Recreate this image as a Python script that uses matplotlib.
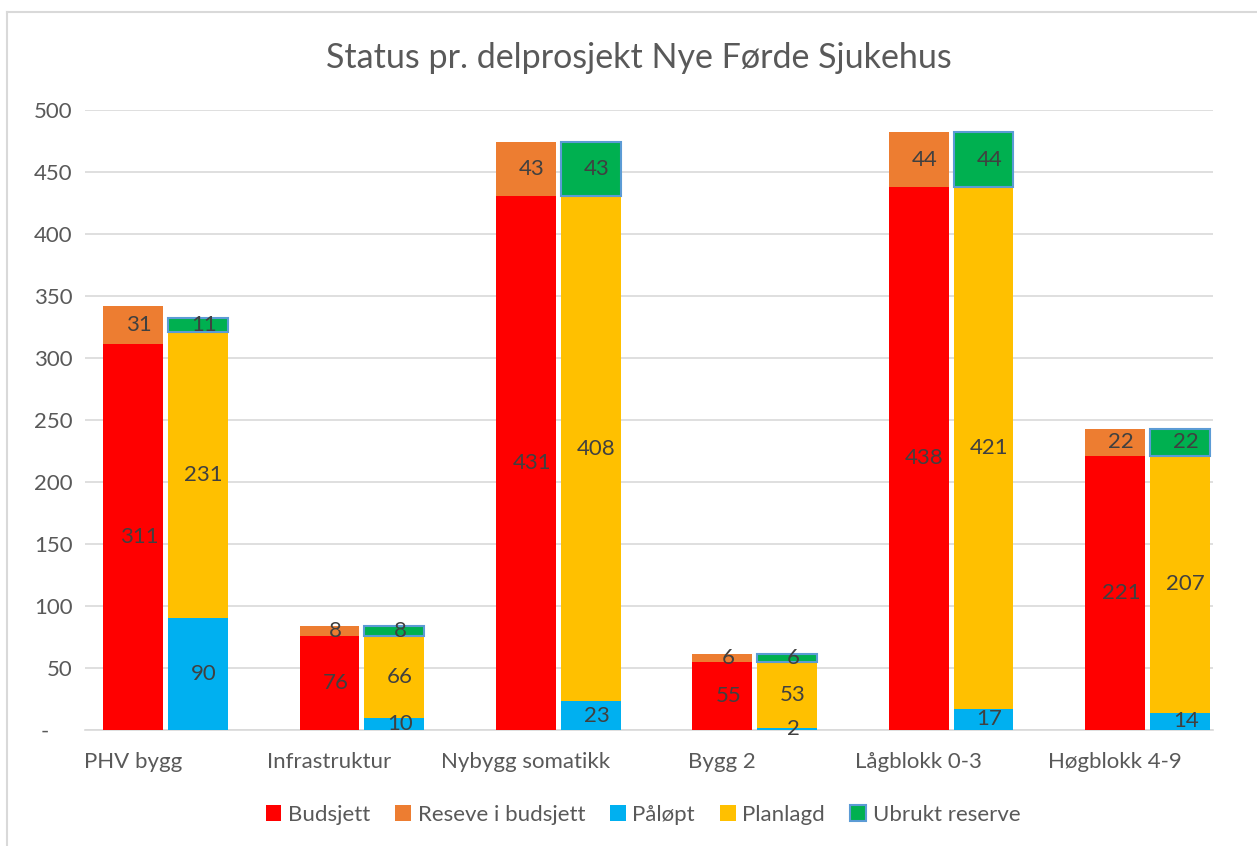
import matplotlib
matplotlib.use("Agg")
import matplotlib.pyplot as plt
from matplotlib.lines import Line2D
from matplotlib.patches import Patch
import numpy as np

plt.rcParams['font.family'] = ['Lato', 'DejaVu Sans']

categories = ["PHV bygg", "Infrastruktur", "Nybygg somatikk", "Bygg 2", "Lågblokk 0-3", "Høgblokk 4-9"]
budsjett = [311, 76, 431, 55, 438, 221]
reserve = [31, 8, 43, 6, 44, 22]
palopt = [90, 10, 23, 2, 17, 14]
planlagd = [231, 66, 408, 53, 421, 207]
ubrukt = [11, 8, 43, 6, 44, 22]
yticks = [0, 50, 100, 150, 200, 250, 300, 350, 400, 450, 500]
ytick_labels = ["-", "50", "100", "150", "200", "250", "300", "350", "400", "450", "500"]

c_bud = "#FF0000"
c_res = "#ED7D31"
c_pal = "#00B0F0"
c_plan = "#FFC000"
c_ubr = "#00B050"
c_ubr_edge = "#5B9BD5"
txt = "#595959"
lbl = "#404040"

W, H = 1257, 846
fig = plt.figure(figsize=(W / 100, H / 100), dpi=100)
ax = fig.add_axes([85 / W, 1 - 730 / H, (1213 - 85) / W, (730 - 110) / H])

x = np.arange(len(categories))
bw = 0.305
off = 0.165
xl = x - off
xr = x + off

ax.bar(xl, budsjett, bw, color=c_bud, zorder=3)
ax.bar(xl, reserve, bw, bottom=budsjett, color=c_res, zorder=3)
ax.bar(xr, palopt, bw, color=c_pal, zorder=3)
ax.bar(xr, planlagd, bw, bottom=palopt, color=c_plan, zorder=3)
bot2 = np.array(palopt) + np.array(planlagd)
ax.bar(xr, ubrukt, bw, bottom=bot2, color=c_ubr, edgecolor=c_ubr_edge, linewidth=1.5, zorder=3)

fs = 16
dx = 0.03
for i in range(len(categories)):
    ax.text(xl[i] + dx, budsjett[i] / 2, str(budsjett[i]), ha='center', va='center', fontsize=fs, color=lbl, zorder=5)
    ax.text(xl[i] + dx, budsjett[i] + reserve[i] / 2, str(reserve[i]), ha='center', va='center', fontsize=fs, color=lbl, zorder=5)
    ax.text(xr[i] + dx, palopt[i] / 2, str(palopt[i]), ha='center', va='center', fontsize=fs, color=lbl, zorder=5)
    ax.text(xr[i] + dx, palopt[i] + planlagd[i] / 2, str(planlagd[i]), ha='center', va='center', fontsize=fs, color=lbl, zorder=5)
    ax.text(xr[i] + dx, bot2[i] + ubrukt[i] / 2, str(ubrukt[i]), ha='center', va='center', fontsize=fs, color=lbl, zorder=5)

ax.set_xlim((85 - 165.5) / 196.4, (1213 - 165.5) / 196.4)
ax.set_ylim(0, 500)
ax.set_yticks(yticks)
ax.set_yticklabels(["-    "] + ytick_labels[1:])
ax.set_xticks(xl)
ax.set_xticklabels(categories)
ax.tick_params(axis='both', length=0, labelsize=16, labelcolor=txt)
ax.tick_params(axis='y', pad=9)
ax.tick_params(axis='x', pad=16)
ax.yaxis.grid(True, color="#D9D9D9", linewidth=1.2, zorder=0)
for s in ['top', 'right', 'left']:
    ax.spines[s].set_visible(False)
ax.spines['bottom'].set_color("#D9D9D9")
ax.spines['bottom'].set_linewidth(1.2)

fig.text(639 / W, 1 - 58 / H, "Status pr. delprosjekt Nye Førde Sjukehus", ha='center', va='center', fontsize=24.5, color=txt)

handles = [
    Patch(facecolor=c_bud, label="Budsjett"),
    Patch(facecolor=c_res, label="Reseve i budsjett"),
    Patch(facecolor=c_pal, label="Påløpt"),
    Patch(facecolor=c_plan, label="Planlagd"),
    Patch(facecolor=c_ubr, edgecolor=c_ubr_edge, linewidth=1.5, label="Ubrukt reserve"),
]
leg = fig.legend(handles=handles, loc='center', bbox_to_anchor=(643 / W, 1 - 815 / H), ncol=5, frameon=False,
                 fontsize=16, handlelength=0.7, handleheight=0.7, handletextpad=0.3, columnspacing=1.13)
for t in leg.get_texts():
    t.set_color(txt)

fig.add_artist(Line2D([7 / W, 1], [1 - 12 / H, 1 - 12 / H], color="#D9D9D9", linewidth=1.5, transform=fig.transFigure))
fig.add_artist(Line2D([7 / W, 7 / W], [1 - 12 / H, 0], color="#D9D9D9", linewidth=1.5, transform=fig.transFigure))

fig.savefig("out.png", dpi=100, facecolor='white')
